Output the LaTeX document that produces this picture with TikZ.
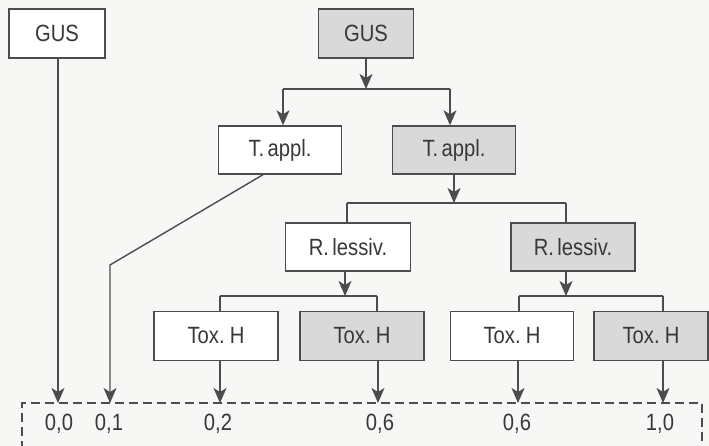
\documentclass[tikz,border=0pt]{standalone}
\usepackage{fontspec}
\setmainfont{Liberation Sans}[FakeStretch=0.86, WordSpace=0.6]
\usetikzlibrary{arrows.meta}
\definecolor{linec}{HTML}{4C4C4C}
\definecolor{textc}{HTML}{383838}
\definecolor{boxgray}{HTML}{D9D9D9}
\definecolor{bgc}{HTML}{F7F7F5}
\begin{document}
\begin{tikzpicture}[x=1pt,y=-1pt,
  box/.style={draw=linec, line width=1.4pt, fill=white, minimum height=48pt, minimum width=123pt, inner sep=0pt, font=\fontsize{23.5}{26}\selectfont, text=textc},
  gbox/.style={box, fill=boxgray},
  ln/.style={draw=linec, line width=1.4pt},
  arr/.style={ln, -{Stealth[length=15pt,width=13pt,inset=4pt]}},
  lab/.style={font=\fontsize{23.5}{26}\selectfont, text=textc, inner sep=0pt}]
\fill[bgc] (0,0) rectangle (709,446);
\useasboundingbox (0,0) rectangle (709,446);
% nodes
\node[box, minimum width=96pt, minimum height=49pt] (gusL) at (57,33.5) {GUS};
\node[gbox, minimum width=95pt, minimum height=49pt] (gusR) at (366,33.5) {GUS};
\node[box] (taL) at (280,150) {T. appl.};
\node[gbox] (taR) at (454,150) {T. appl.};
\node[box, minimum width=125pt] (rlL) at (348,247) {R. lessiv.};
\node[gbox, minimum width=124pt] (rlR) at (573,247) {R. lessiv.};
\node[box, minimum width=124pt, minimum height=49pt] (tx1) at (216,336) {Tox. H};
\node[gbox, minimum width=124pt, minimum height=49pt] (tx2) at (362,336) {Tox. H};
\node[box, minimum width=123pt, minimum height=49pt] (tx3) at (512,336) {Tox. H};
\node[gbox, minimum width=114pt, minimum height=49pt] (tx4) at (651,336) {Tox. H};
% result labels
\node[lab] (v1) at (59,424) {0,0};
\node[lab] (v2) at (109,424) {0,1};
\node[lab] (v3) at (218,424) {0,2};
\node[lab] (v4) at (380,424) {0,6};
\node[lab] (v5) at (517,424) {0,6};
\node[lab] (v6) at (660,424) {1,0};
% junction coordinates
\coordinate (base) at (0,403);
\coordinate (j1) at (366,89);
\coordinate (j1L) at (283,89);
\coordinate (j1R) at (450,89);
\coordinate (j2) at (454,203);
\coordinate (j2L) at (347,203);
\coordinate (j2R) at (566,203);
\coordinate (j3) at (345,296);
\coordinate (j3L) at (220,296);
\coordinate (j3R) at (377,296);
\coordinate (j4) at (566,296);
\coordinate (j4L) at (519,296);
\coordinate (j4R) at (663,296);
\coordinate (k) at (110,265);
% level 1
\draw[arr] (gusR.south) -- (j1);
\draw[ln] (j1L) -- (j1R);
\draw[arr] (j1L) -- (j1L |- taL.north);
\draw[arr] (j1R) -- (j1R |- taR.north);
% level 2
\draw[arr] (taR.south) -- (j2);
\draw[ln] (j2L) -- (j2R);
\draw[ln] (j2L) -- (j2L |- rlL.north);
\draw[ln] (j2R) -- (j2R |- rlR.north);
% level 3
\draw[arr] (j3 |- rlL.south) -- (j3);
\draw[ln] (j3L) -- (j3R);
\draw[ln] (j3L) -- (j3L |- tx1.north);
\draw[ln] (j3R) -- (j3R |- tx2.north);
\draw[arr] (j4 |- rlR.south) -- (j4);
\draw[ln] (j4L) -- (j4R);
\draw[ln] (j4L) -- (j4L |- tx3.north);
\draw[ln] (j4R) -- (j4R |- tx4.north);
% to results
\draw[arr] (58,0 |- gusL.south) -- (58,0 |- base);
\draw[arr] ([xshift=-17pt]taL.south) -- (k) -- (k |- base);
\draw[arr] (j3L |- tx1.south) -- (j3L |- base);
\draw[arr] ([xshift=1pt]j3R |- tx2.south) -- ([xshift=1pt]j3R |- base);
\draw[arr] ([xshift=-1pt]j4L |- tx3.south) -- ([xshift=-1pt]j4L |- base);
\draw[arr] (j4R |- tx4.south) -- (j4R |- base);
% dashed result frame
\draw[ln, dash pattern=on 9pt off 5pt] (22,450) -- (22,403) -- (702,403) -- (702,450);
\end{tikzpicture}
\end{document}
